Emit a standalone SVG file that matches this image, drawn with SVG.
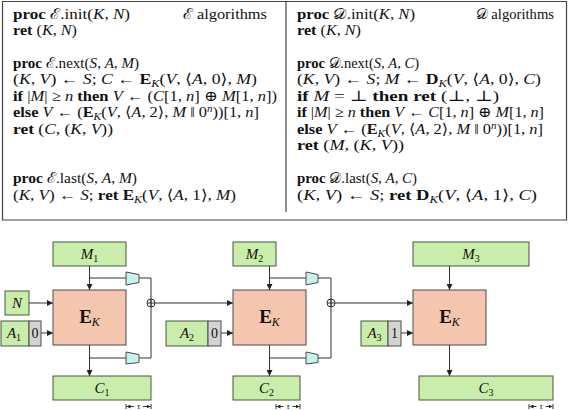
<svg xmlns="http://www.w3.org/2000/svg" width="568" height="410" viewBox="0 0 568 410">
<defs>
<style>
.code{font-family:"Liberation Serif","DejaVu Serif",serif;font-size:15px;fill:#111}
.b{font-weight:bold;font-style:normal}
.i{font-style:italic}
.frame{fill:none;stroke:#444;stroke-width:1.2}
.g{fill:#c9edaa;stroke:#4a5544;stroke-width:1}
.e{fill:#f5c6ae;stroke:#4a4a4a;stroke-width:1}
.gray{fill:#d3d3d3;stroke:#4a4a4a;stroke-width:1}
.tr{fill:#c6f2ee;stroke:#4a4a4a;stroke-width:1}
.lbl{font-family:"Liberation Serif","DejaVu Serif",serif;font-size:15px;font-style:italic;fill:#111;text-anchor:middle}
.ek{font-family:"Liberation Serif","DejaVu Serif",serif;font-size:19px;font-weight:bold;fill:#111;text-anchor:middle}
.num{font-family:"Liberation Serif","DejaVu Serif",serif;font-size:14px;fill:#111;text-anchor:middle}
.ln{fill:none;stroke:#333;stroke-width:1}
.tau{font-family:"Liberation Serif","DejaVu Serif",serif;font-size:9px;font-style:italic;fill:#111;text-anchor:middle}
</style>
<marker id="ah" viewBox="0 0 6 6" refX="6" refY="3" markerWidth="6" markerHeight="6" markerUnits="userSpaceOnUse" orient="auto"><path d="M0,0 L6,3 L0,6 z" fill="#222"/></marker>
<marker id="sa" viewBox="0 0 6 6" refX="6" refY="3" markerWidth="4" markerHeight="4" markerUnits="userSpaceOnUse" orient="auto"><path d="M0,0 L6,3 L0,6 z" fill="#222"/></marker>
</defs>
<rect width="568" height="410" fill="#fff"/>

<g id="code">
<path class="frame" d="M2.5,1.5 H566.5 V220 H2.5 Z"/>
<line class="frame" x1="286" y1="1.5" x2="286" y2="212"/>
<g class="code">
<text x="13" y="19" textLength="117" lengthAdjust="spacingAndGlyphs"><tspan class="b">proc</tspan> ℰ.init(<tspan class="i">K</tspan>, <tspan class="i">N</tspan>)</text>
<text x="183" y="19" textLength="84" lengthAdjust="spacingAndGlyphs">ℰ algorithms</text>
<text x="13" y="35" textLength="64" lengthAdjust="spacingAndGlyphs"><tspan class="b">ret</tspan> (<tspan class="i">K</tspan>, <tspan class="i">N</tspan>)</text>
<text x="13" y="68" textLength="126" lengthAdjust="spacingAndGlyphs"><tspan class="b">proc</tspan> ℰ.next(<tspan class="i">S</tspan>, <tspan class="i">A</tspan>, <tspan class="i">M</tspan>)</text>
<text x="13" y="84" textLength="244" lengthAdjust="spacingAndGlyphs">(<tspan class="i">K</tspan>, <tspan class="i">V</tspan>) ← <tspan class="i">S</tspan>;  <tspan class="i">C</tspan> ← <tspan class="b">E</tspan><tspan class="i" font-size="10.5" dy="3">K</tspan><tspan dy="-3">(</tspan><tspan class="i">V</tspan>, ⟨<tspan class="i">A</tspan>, 0⟩, <tspan class="i">M</tspan>)</text>
<text x="13" y="100.5" textLength="264" lengthAdjust="spacingAndGlyphs"><tspan class="b">if</tspan> |<tspan class="i">M</tspan>| ≥ <tspan class="i">n</tspan> <tspan class="b">then</tspan> <tspan class="i">V</tspan> ← (<tspan class="i">C</tspan>[1, <tspan class="i">n</tspan>] ⊕ <tspan class="i">M</tspan>[1, <tspan class="i">n</tspan>])</text>
<text x="13" y="117" textLength="246" lengthAdjust="spacingAndGlyphs"><tspan class="b">else</tspan> <tspan class="i">V</tspan> ← (<tspan class="b">E</tspan><tspan class="i" font-size="10.5" dy="3">K</tspan><tspan dy="-3">(</tspan><tspan class="i">V</tspan>, ⟨<tspan class="i">A</tspan>, 2⟩, <tspan class="i">M</tspan> ‖ 0<tspan class="i" font-size="10" dy="-5">n</tspan><tspan dy="5">))[1,</tspan> <tspan class="i">n</tspan>]</text>
<text x="13" y="133.5" textLength="100" lengthAdjust="spacingAndGlyphs"><tspan class="b">ret</tspan> (<tspan class="i">C</tspan>, (<tspan class="i">K</tspan>, <tspan class="i">V</tspan>))</text>
<text x="13" y="183" textLength="124" lengthAdjust="spacingAndGlyphs"><tspan class="b">proc</tspan> ℰ.last(<tspan class="i">S</tspan>, <tspan class="i">A</tspan>, <tspan class="i">M</tspan>)</text>
<text x="13" y="199.5" textLength="223" lengthAdjust="spacingAndGlyphs">(<tspan class="i">K</tspan>, <tspan class="i">V</tspan>) ← <tspan class="i">S</tspan>;  <tspan class="b">ret</tspan> <tspan class="b">E</tspan><tspan class="i" font-size="10.5" dy="3">K</tspan><tspan dy="-3">(</tspan><tspan class="i">V</tspan>, ⟨<tspan class="i">A</tspan>, 1⟩, <tspan class="i">M</tspan>)</text>

<text x="297" y="19" textLength="118" lengthAdjust="spacingAndGlyphs"><tspan class="b">proc</tspan> 𝒟.init(<tspan class="i">K</tspan>, <tspan class="i">N</tspan>)</text>
<text x="476" y="19" textLength="78" lengthAdjust="spacingAndGlyphs">𝒟 algorithms</text>
<text x="297" y="35" textLength="64" lengthAdjust="spacingAndGlyphs"><tspan class="b">ret</tspan> (<tspan class="i">K</tspan>, <tspan class="i">N</tspan>)</text>
<text x="297" y="68" textLength="122" lengthAdjust="spacingAndGlyphs"><tspan class="b">proc</tspan> 𝒟.next(<tspan class="i">S</tspan>, <tspan class="i">A</tspan>, <tspan class="i">C</tspan>)</text>
<text x="297" y="84" textLength="244" lengthAdjust="spacingAndGlyphs">(<tspan class="i">K</tspan>, <tspan class="i">V</tspan>) ← <tspan class="i">S</tspan>;  <tspan class="i">M</tspan> ← <tspan class="b">D</tspan><tspan class="i" font-size="10.5" dy="3">K</tspan><tspan dy="-3">(</tspan><tspan class="i">V</tspan>, ⟨<tspan class="i">A</tspan>, 0⟩, <tspan class="i">C</tspan>)</text>
<text x="297" y="100.5" textLength="202" lengthAdjust="spacingAndGlyphs"><tspan class="b">if</tspan> <tspan class="i">M</tspan> = ⊥ <tspan class="b">then</tspan> <tspan class="b">ret</tspan> (⊥, ⊥)</text>
<text x="297" y="117" textLength="247" lengthAdjust="spacingAndGlyphs"><tspan class="b">if</tspan> |<tspan class="i">M</tspan>| ≥ <tspan class="i">n</tspan> <tspan class="b">then</tspan> <tspan class="i">V</tspan> ← <tspan class="i">C</tspan>[1, <tspan class="i">n</tspan>] ⊕ <tspan class="i">M</tspan>[1, <tspan class="i">n</tspan>]</text>
<text x="297" y="133.5" textLength="246" lengthAdjust="spacingAndGlyphs"><tspan class="b">else</tspan> <tspan class="i">V</tspan> ← (<tspan class="b">E</tspan><tspan class="i" font-size="10.5" dy="3">K</tspan><tspan dy="-3">(</tspan><tspan class="i">V</tspan>, ⟨<tspan class="i">A</tspan>, 2⟩, <tspan class="i">M</tspan> ‖ 0<tspan class="i" font-size="10" dy="-5">n</tspan><tspan dy="5">))[1,</tspan> <tspan class="i">n</tspan>]</text>
<text x="297" y="150" textLength="107" lengthAdjust="spacingAndGlyphs"><tspan class="b">ret</tspan> (<tspan class="i">M</tspan>, (<tspan class="i">K</tspan>, <tspan class="i">V</tspan>))</text>
<text x="297" y="183" textLength="120" lengthAdjust="spacingAndGlyphs"><tspan class="b">proc</tspan> 𝒟.last(<tspan class="i">S</tspan>, <tspan class="i">A</tspan>, <tspan class="i">C</tspan>)</text>
<text x="297" y="199.5" textLength="240" lengthAdjust="spacingAndGlyphs">(<tspan class="i">K</tspan>, <tspan class="i">V</tspan>) ← <tspan class="i">S</tspan>;  <tspan class="b">ret</tspan> <tspan class="b">D</tspan><tspan class="i" font-size="10.5" dy="3">K</tspan><tspan dy="-3">(</tspan><tspan class="i">V</tspan>, ⟨<tspan class="i">A</tspan>, 1⟩, <tspan class="i">C</tspan>)</text>
</g>
</g>

<g id="connectors">
<line class="ln" x1="89.5" y1="266" x2="89.5" y2="290" marker-end="url(#ah)"/>
<polyline class="ln" points="89.5,278 126,278"/>
<polyline class="ln" points="139,278 151,278 151,358 139,358"/>
<line class="ln" x1="89.5" y1="345" x2="89.5" y2="376" marker-end="url(#ah)"/>
<line class="ln" x1="89.5" y1="358" x2="126" y2="358"/>
<line class="ln" x1="29" y1="303" x2="53" y2="303" marker-end="url(#ah)"/>
<line class="ln" x1="41" y1="333" x2="53" y2="333" marker-end="url(#ah)"/>
<line class="ln" x1="155" y1="303" x2="233" y2="303" marker-end="url(#ah)"/>

<line class="ln" x1="269.5" y1="266" x2="269.5" y2="290" marker-end="url(#ah)"/>
<polyline class="ln" points="269.5,278 306,278"/>
<polyline class="ln" points="318,278 331,278 331,358 318,358"/>
<line class="ln" x1="269.5" y1="345" x2="269.5" y2="376" marker-end="url(#ah)"/>
<line class="ln" x1="269.5" y1="358" x2="306" y2="358"/>
<line class="ln" x1="221" y1="333" x2="233" y2="333" marker-end="url(#ah)"/>
<line class="ln" x1="335" y1="303" x2="413" y2="303" marker-end="url(#ah)"/>

<line class="ln" x1="449.5" y1="266" x2="449.5" y2="290" marker-end="url(#ah)"/>
<line class="ln" x1="449.5" y1="345" x2="449.5" y2="376" marker-end="url(#ah)"/>
<line class="ln" x1="401" y1="333" x2="413" y2="333" marker-end="url(#ah)"/>
</g>

<g id="xor1"><circle class="ln" cx="151" cy="303" r="4"/><path class="ln" d="M147,303 H155 M151,299 V307"/></g>
<g id="xor2"><circle class="ln" cx="331" cy="303" r="4"/><path class="ln" d="M327,303 H335 M331,299 V307"/></g>

<g id="trunc1a"><path class="tr" d="M126,272 L139,274.5 L139,282.5 L126,285 Z"/></g>
<g id="trunc1b"><path class="tr" d="M126,352 L139,354.5 L139,362.5 L126,364 Z"/></g>
<g id="trunc2a"><path class="tr" d="M306,272 L318,274.5 L318,282.5 L306,285 Z"/></g>
<g id="trunc2b"><path class="tr" d="M306,352 L318,354.5 L318,362.5 L306,364 Z"/></g>

<g id="M1"><rect class="g" x="53" y="242" width="73" height="24"/><text class="lbl" x="89.5" y="259">M<tspan font-size="10" dy="3" font-style="normal">1</tspan></text></g>
<g id="N"><rect class="g" x="5" y="291" width="24" height="24"/><text class="lbl" x="17" y="308">N</text></g>
<g id="A1"><rect class="g" x="1" y="321" width="28" height="25"/><text class="lbl" x="14" y="338">A<tspan font-size="10" dy="3" font-style="normal">1</tspan></text><rect class="gray" x="29" y="321" width="12" height="25"/><text class="num" x="35" y="338">0</text></g>
<g id="E1"><rect class="e" x="53" y="290" width="73" height="55"/><text class="ek" x="89.5" y="323">E<tspan font-size="12" font-style="italic" font-weight="normal" dy="3">K</tspan></text></g>
<g id="C1"><rect class="g" x="53" y="376" width="98" height="24"/><text class="lbl" x="102" y="393">C<tspan font-size="10" dy="3" font-style="normal">1</tspan></text></g>

<g id="M2"><rect class="g" x="233" y="242" width="43" height="24"/><text class="lbl" x="254.5" y="259">M<tspan font-size="10" dy="3" font-style="normal">2</tspan></text></g>
<g id="A2"><rect class="g" x="166" y="321" width="42" height="25"/><text class="lbl" x="187" y="338">A<tspan font-size="10" dy="3" font-style="normal">2</tspan></text><rect class="gray" x="208" y="321" width="13" height="25"/><text class="num" x="214.5" y="338">0</text></g>
<g id="E2"><rect class="e" x="233" y="290" width="73" height="55"/><text class="ek" x="269.5" y="323">E<tspan font-size="12" font-style="italic" font-weight="normal" dy="3">K</tspan></text></g>
<g id="C2"><rect class="g" x="233" y="376" width="67" height="24"/><text class="lbl" x="266.5" y="393">C<tspan font-size="10" dy="3" font-style="normal">2</tspan></text></g>

<g id="M3"><rect class="g" x="413" y="242" width="116" height="24"/><text class="lbl" x="471" y="259">M<tspan font-size="10" dy="3" font-style="normal">3</tspan></text></g>
<g id="A3"><rect class="g" x="361" y="321" width="27" height="25"/><text class="lbl" x="374.5" y="338">A<tspan font-size="10" dy="3" font-style="normal">3</tspan></text><rect class="gray" x="388" y="321" width="13" height="25"/><text class="num" x="394.5" y="338">1</text></g>
<g id="E3"><rect class="e" x="413" y="290" width="73" height="55"/><text class="ek" x="449.5" y="323">E<tspan font-size="12" font-style="italic" font-weight="normal" dy="3">K</tspan></text></g>
<g id="C3"><rect class="g" x="419" y="376" width="134" height="24"/><text class="lbl" x="486" y="393">C<tspan font-size="10" dy="3" font-style="normal">3</tspan></text></g>

<g id="tau1"><path class="ln" d="M126,404 V409 M151,404 V409"/><line class="ln" x1="134" y1="406.5" x2="126.5" y2="406.5" marker-end="url(#sa)"/><line class="ln" x1="143" y1="406.5" x2="150.5" y2="406.5" marker-end="url(#sa)"/><text class="tau" x="138.5" y="409">τ</text></g>
<g id="tau2"><path class="ln" d="M276,404 V409 M300,404 V409"/><line class="ln" x1="283.5" y1="406.5" x2="276.5" y2="406.5" marker-end="url(#sa)"/><line class="ln" x1="292.5" y1="406.5" x2="299.5" y2="406.5" marker-end="url(#sa)"/><text class="tau" x="288" y="409">τ</text></g>
<g id="tau3"><path class="ln" d="M529,404 V409 M553,404 V409"/><line class="ln" x1="536.5" y1="406.5" x2="529.5" y2="406.5" marker-end="url(#sa)"/><line class="ln" x1="545.5" y1="406.5" x2="552.5" y2="406.5" marker-end="url(#sa)"/><text class="tau" x="541" y="409">τ</text></g>
</svg>
